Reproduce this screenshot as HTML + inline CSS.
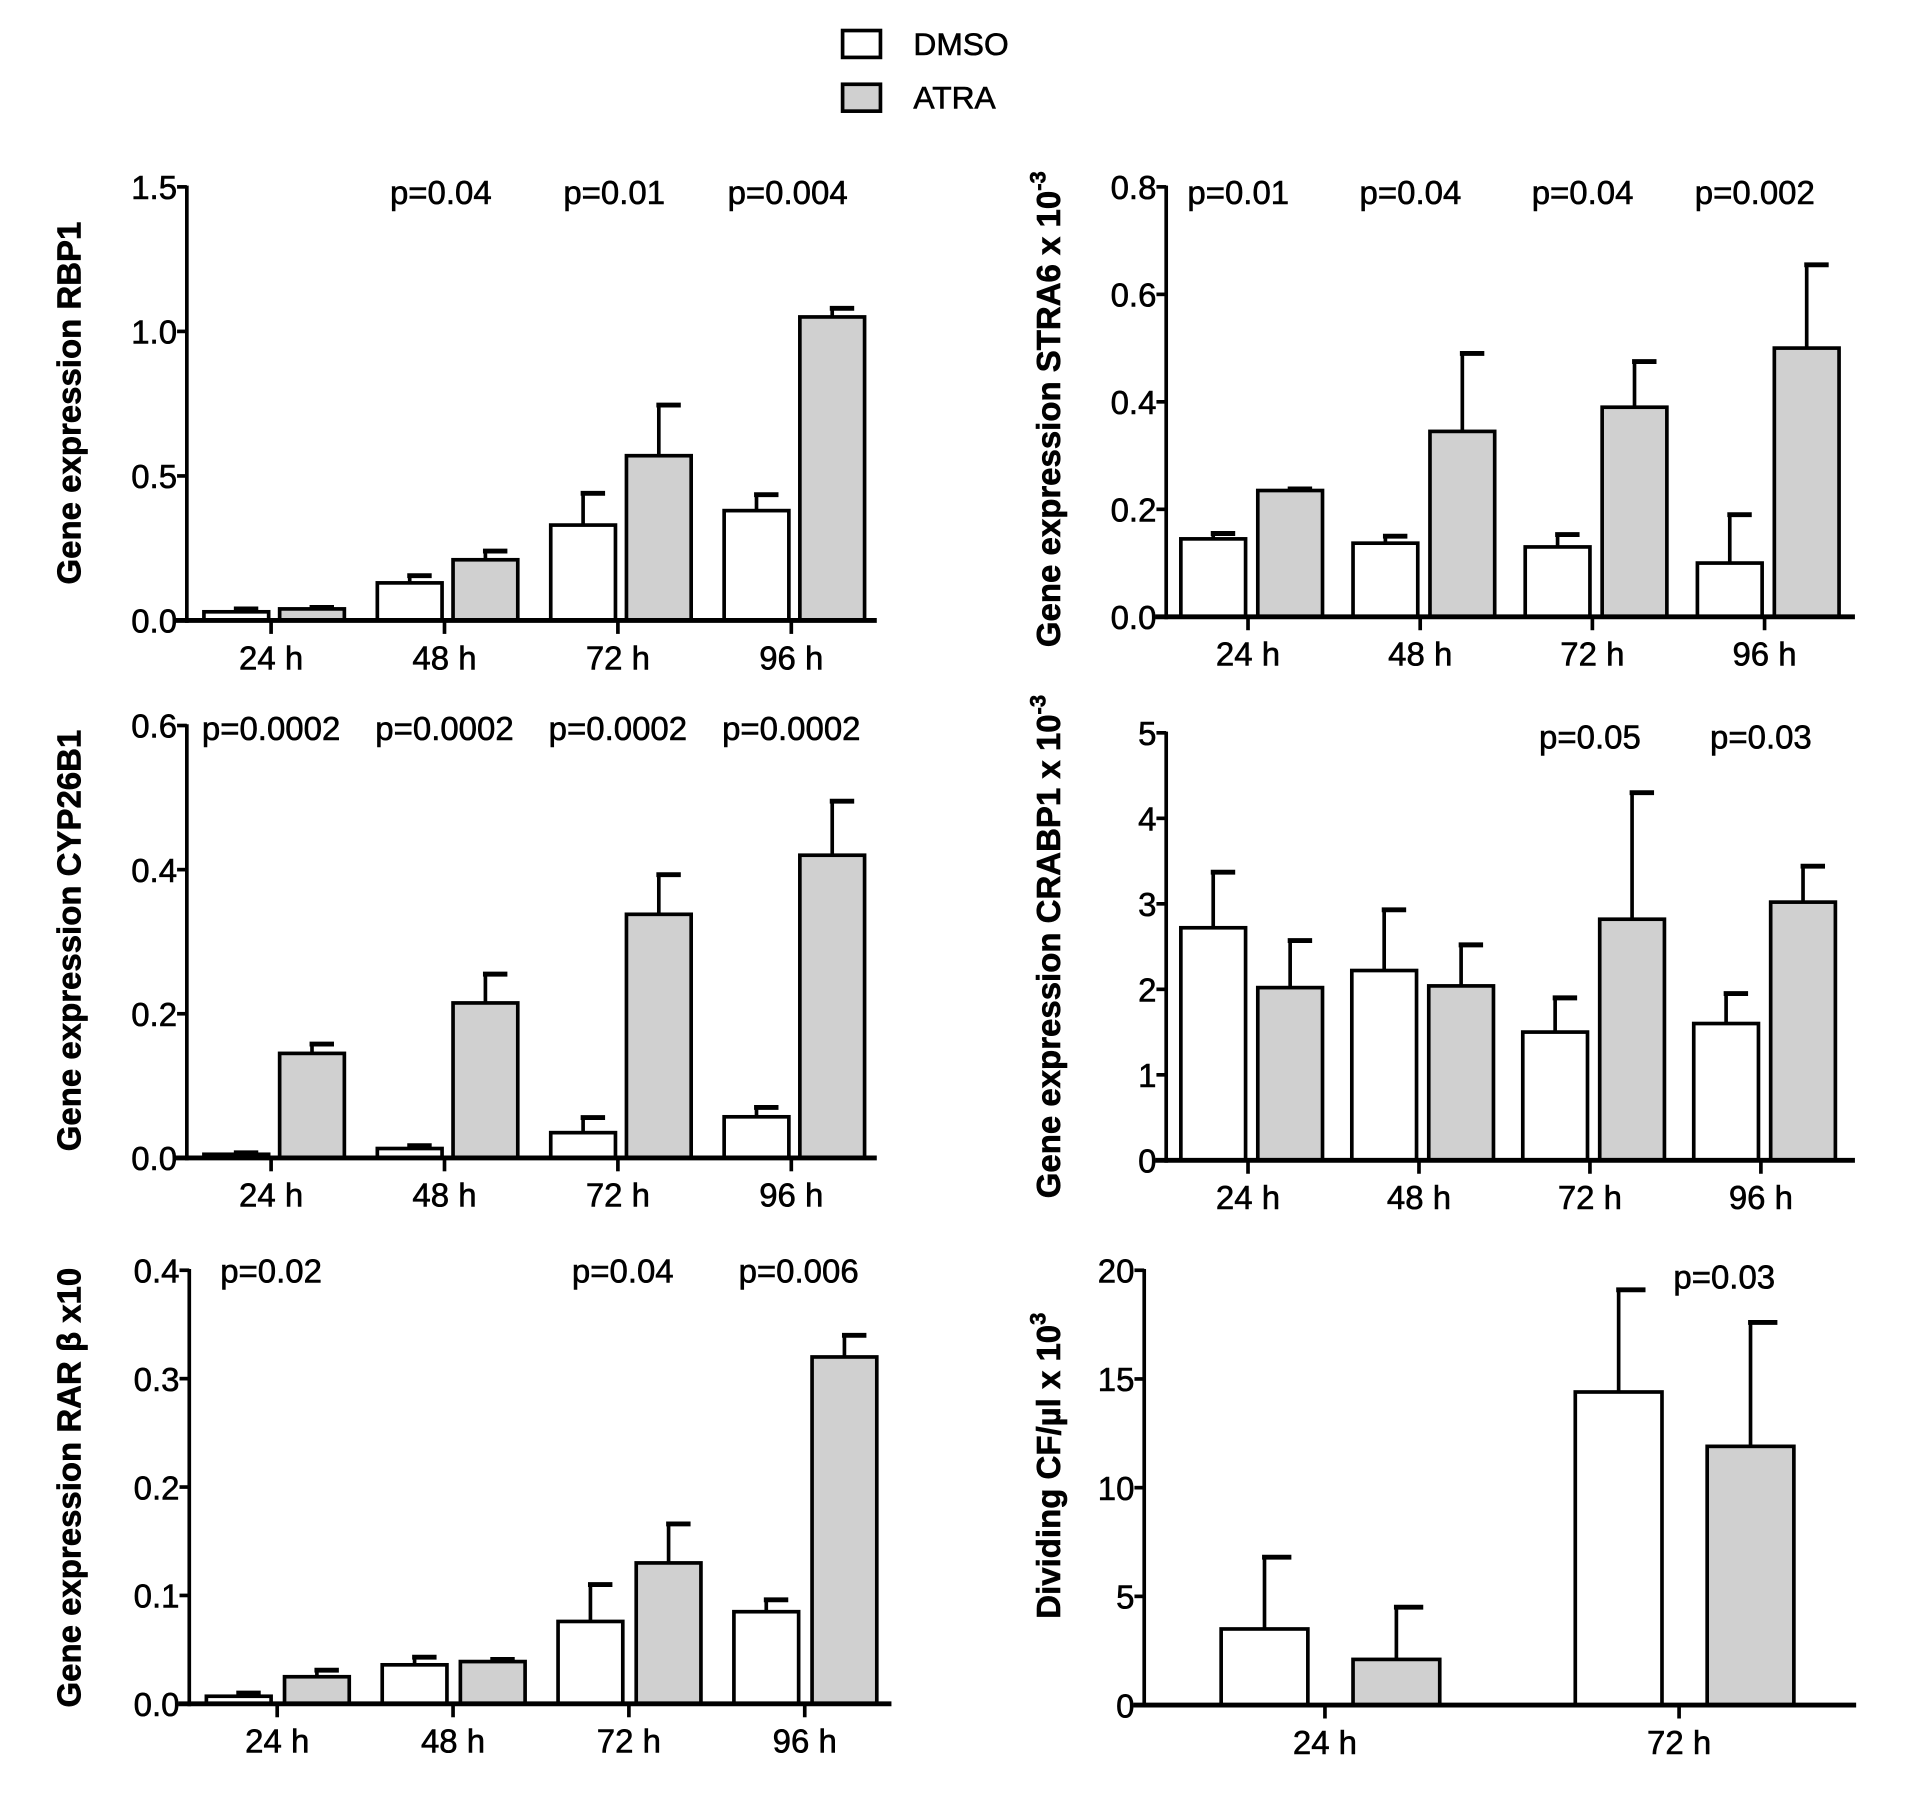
<!DOCTYPE html>
<html><head><meta charset="utf-8"><style>
html,body{margin:0;padding:0;background:#fff;}
svg{display:block;font-family:"Liberation Sans",Arial,sans-serif;}
svg text{stroke:#000;stroke-width:0.5px;}
</style></head><body>
<svg id="fig" width="1905" height="1804" viewBox="0 0 1560 1477" preserveAspectRatio="none" xmlns="http://www.w3.org/2000/svg">
<g>
<rect x="690" y="25" width="31" height="22" fill="#fff" stroke="#000" stroke-width="3"/>
<text x="748" y="45" font-size="26">DMSO</text>
<rect x="690" y="69" width="31" height="22" fill="#d0d0d0" stroke="#000" stroke-width="3"/>
<text x="748" y="89" font-size="26">ATRA</text>
</g>
</svg>
<script>
const cats4 = ["24 h","48 h","72 h","96 h"];
const cats2 = ["24 h","72 h"];
const rbp1Dmso = [0.03,0.13,0.33,0.38];
const rbp1DmsoErr = [0.04,0.155,0.44,0.435];
const rbp1Atra = [0.04,0.21,0.57,1.05];
const rbp1AtraErr = [0.045,0.24,0.745,1.08];
const rbp1P = ["","p=0.04","p=0.01","p=0.004"];
const rbp1Ticks = ["0.0","0.5","1.0","1.5"];
const stra6Dmso = [0.145,0.137,0.13,0.10];
const stra6DmsoErr = [0.155,0.15,0.153,0.19];
const stra6Atra = [0.235,0.345,0.39,0.50];
const stra6AtraErr = [0.238,0.49,0.475,0.655];
const stra6P = ["p=0.01","p=0.04","p=0.04","p=0.002"];
const stra6Ticks = ["0.0","0.2","0.4","0.6","0.8"];
const cypDmso = [0.005,0.013,0.035,0.057];
const cypDmsoErr = [0.007,0.017,0.056,0.07];
const cypAtra = [0.145,0.215,0.338,0.42];
const cypAtraErr = [0.158,0.255,0.393,0.495];
const cypP = ["p=0.0002","p=0.0002","p=0.0002","p=0.0002"];
const cypTicks = ["0.0","0.2","0.4","0.6"];
const crabDmso = [2.72,2.22,1.5,1.6];
const crabDmsoErr = [3.37,2.93,1.9,1.95];
const crabAtra = [2.02,2.04,2.82,3.02];
const crabAtraErr = [2.57,2.52,4.3,3.44];
const crabP = ["","","p=0.05","p=0.03"];
const crabTicks = ["0","1","2","3","4","5"];
const rarDmso = [0.007,0.036,0.076,0.085];
const rarDmsoErr = [0.01,0.043,0.11,0.096];
const rarAtra = [0.025,0.039,0.13,0.32];
const rarAtraErr = [0.031,0.041,0.166,0.34];
const rarP = ["p=0.02","","p=0.04","p=0.006"];
const rarTicks = ["0.0","0.1","0.2","0.3","0.4"];
const cfDmso = [3.5,14.4];
const cfDmsoErr = [6.8,19.1];
const cfAtra = [2.1,11.9];
const cfAtraErr = [4.5,17.6];
const cfP = ["","p=0.03"];
const cfTicks = ["0","5","10","15","20"];

const NS="http://www.w3.org/2000/svg";
const svg=document.getElementById('fig');
function mk(tag,attrs,parent){const e=document.createElementNS(NS,tag);for(const k in attrs)e.setAttribute(k,attrs[k]);(parent||svg).appendChild(e);return e;}

function panel(o){
  const g=mk('g',{});
  
  
  const max=o.max;
  const y=v=>o.y0-(v/max)*(o.y0-o.yTop);
  o.cats.forEach((c,i)=>{
    const cx=o.cx0+i*o.step;
    [[o.dmso,o.dmsoErr,'#fff',cx+o.offD],[o.atra,o.atraErr,'#d0d0d0',cx+o.offA]].forEach((s,si)=>{
      const v=s[0][i], e=s[1][i], x=s[3];
      const mid=x+o.bw/2;
      const el=mk('line',{x1:mid,x2:mid,y1:y(v),y2:y(e),stroke:'#000','stroke-width':3},g);
      
      
      const cap=mk('line',{x1:mid-2,x2:mid+o.cap,y1:y(e),y2:y(e),stroke:'#000','stroke-width':4},g);
      
      
      const r=mk('rect',{x:x,y:y(v),width:o.bw,height:o.y0-y(v),fill:s[2],stroke:'#000','stroke-width':3},g);
      
      
    });
    const t=mk('line',{x1:cx,x2:cx,y1:o.y0,y2:o.y0+11,stroke:'#000','stroke-width':3},g);
    
    
    const lb=mk('text',{x:cx,y:o.y0+40,'font-size':27,'text-anchor':'middle'},g);
    lb.textContent=c;
    
    
    if(o.p[i]){
      const pt=mk('text',{x:cx+(o.pOff||0),y:o.pY,'font-size':27,'text-anchor':'middle'},g);
      pt.textContent=o.p[i];
      
      
    }
  });
  const ya=mk('line',{x1:o.ax,x2:o.ax,y1:o.yTop-1,y2:o.y0+2,stroke:'#000','stroke-width':3},g);
  
  
  const xa=mk('line',{x1:o.ax-9,x2:o.xEnd,y1:o.y0,y2:o.y0,stroke:'#000','stroke-width':4},g);
  
  
  o.ticks.forEach((t,i)=>{
    const v=max*i/(o.ticks.length-1);
    const tl=mk('line',{x1:o.ax-8,x2:o.ax,y1:y(v),y2:y(v),stroke:'#000','stroke-width':3},g);
    
    
    const tx=mk('text',{x:o.ax-8,y:y(v)+10,'font-size':27,'text-anchor':'end'},g);
    tx.textContent=t;
    
    
  });
  const tt=mk('text',{x:0,y:0,'font-size':27,'font-weight':'bold','text-anchor':'middle',transform:`translate(${o.tx},${o.ty}) rotate(-90)`},g);
  tt.innerHTML=o.title;
  
  
}

panel({name:'panel-rbp1',cats:cats4,dmso:rbp1Dmso,dmsoErr:rbp1DmsoErr,atra:rbp1Atra,atraErr:rbp1AtraErr,p:rbp1P,ticks:rbp1Ticks,max:1.5,
  yTop:153,y0:508,ax:153,xEnd:718,cx0:222,step:142,offD:-55,offA:7,bw:53,cap:18,pY:167,pOff:-3,tx:66,ty:330,
  title:'Gene expression RBP1'});
panel({name:'panel-stra6',cats:cats4,dmso:stra6Dmso,dmsoErr:stra6DmsoErr,atra:stra6Atra,atraErr:stra6AtraErr,p:stra6P,ticks:stra6Ticks,max:0.8,
  yTop:153,y0:505,ax:955,xEnd:1519,cx0:1022,step:141,offD:-55,offA:8,bw:53,cap:18,pY:167,pOff:-8,tx:868,ty:335,
  title:'Gene expression STRA6 x 10<tspan dy="-12" font-size="18">-3</tspan>'});
panel({name:'panel-cyp26b1',cats:cats4,dmso:cypDmso,dmsoErr:cypDmsoErr,atra:cypAtra,atraErr:cypAtraErr,p:cypP,ticks:cypTicks,max:0.6,
  yTop:594,y0:948,ax:153,xEnd:718,cx0:222,step:142,offD:-55,offA:7,bw:53,cap:18,pY:606,pOff:0,tx:66,ty:770,
  title:'Gene expression CYP26B1'});
panel({name:'panel-crabp1',cats:cats4,dmso:crabDmso,dmsoErr:crabDmsoErr,atra:crabAtra,atraErr:crabAtraErr,p:crabP,ticks:crabTicks,max:5,
  yTop:600,y0:950,ax:955,xEnd:1519,cx0:1022,step:140,offD:-55,offA:8,bw:53,cap:18,pY:613,pOff:0,tx:868,ty:775,
  title:'Gene expression CRABP1 x 10<tspan dy="-12" font-size="18">-3</tspan>'});
panel({name:'panel-rarb',cats:cats4,dmso:rarDmso,dmsoErr:rarDmsoErr,atra:rarAtra,atraErr:rarAtraErr,p:rarP,ticks:rarTicks,max:0.4,
  yTop:1040,y0:1395,ax:155,xEnd:730,cx0:227,step:144,offD:-58,offA:6,bw:53,cap:18,pY:1050,pOff:-5,tx:66,ty:1218,
  title:'Gene expression RAR β x10'});
panel({name:'panel-dividing-cf',cats:cats2,dmso:cfDmso,dmsoErr:cfDmsoErr,atra:cfAtra,atraErr:cfAtraErr,p:cfP,ticks:cfTicks,max:20,
  yTop:1040,y0:1396,ax:937,xEnd:1520,cx0:1085,step:290,offD:-85,offA:23,bw:71,cap:22,pY:1055,pOff:37,tx:868,ty:1200,
  title:'Dividing CF/µl x 10<tspan dy="-12" font-size="18">3</tspan>'});
</script>
</body></html>
